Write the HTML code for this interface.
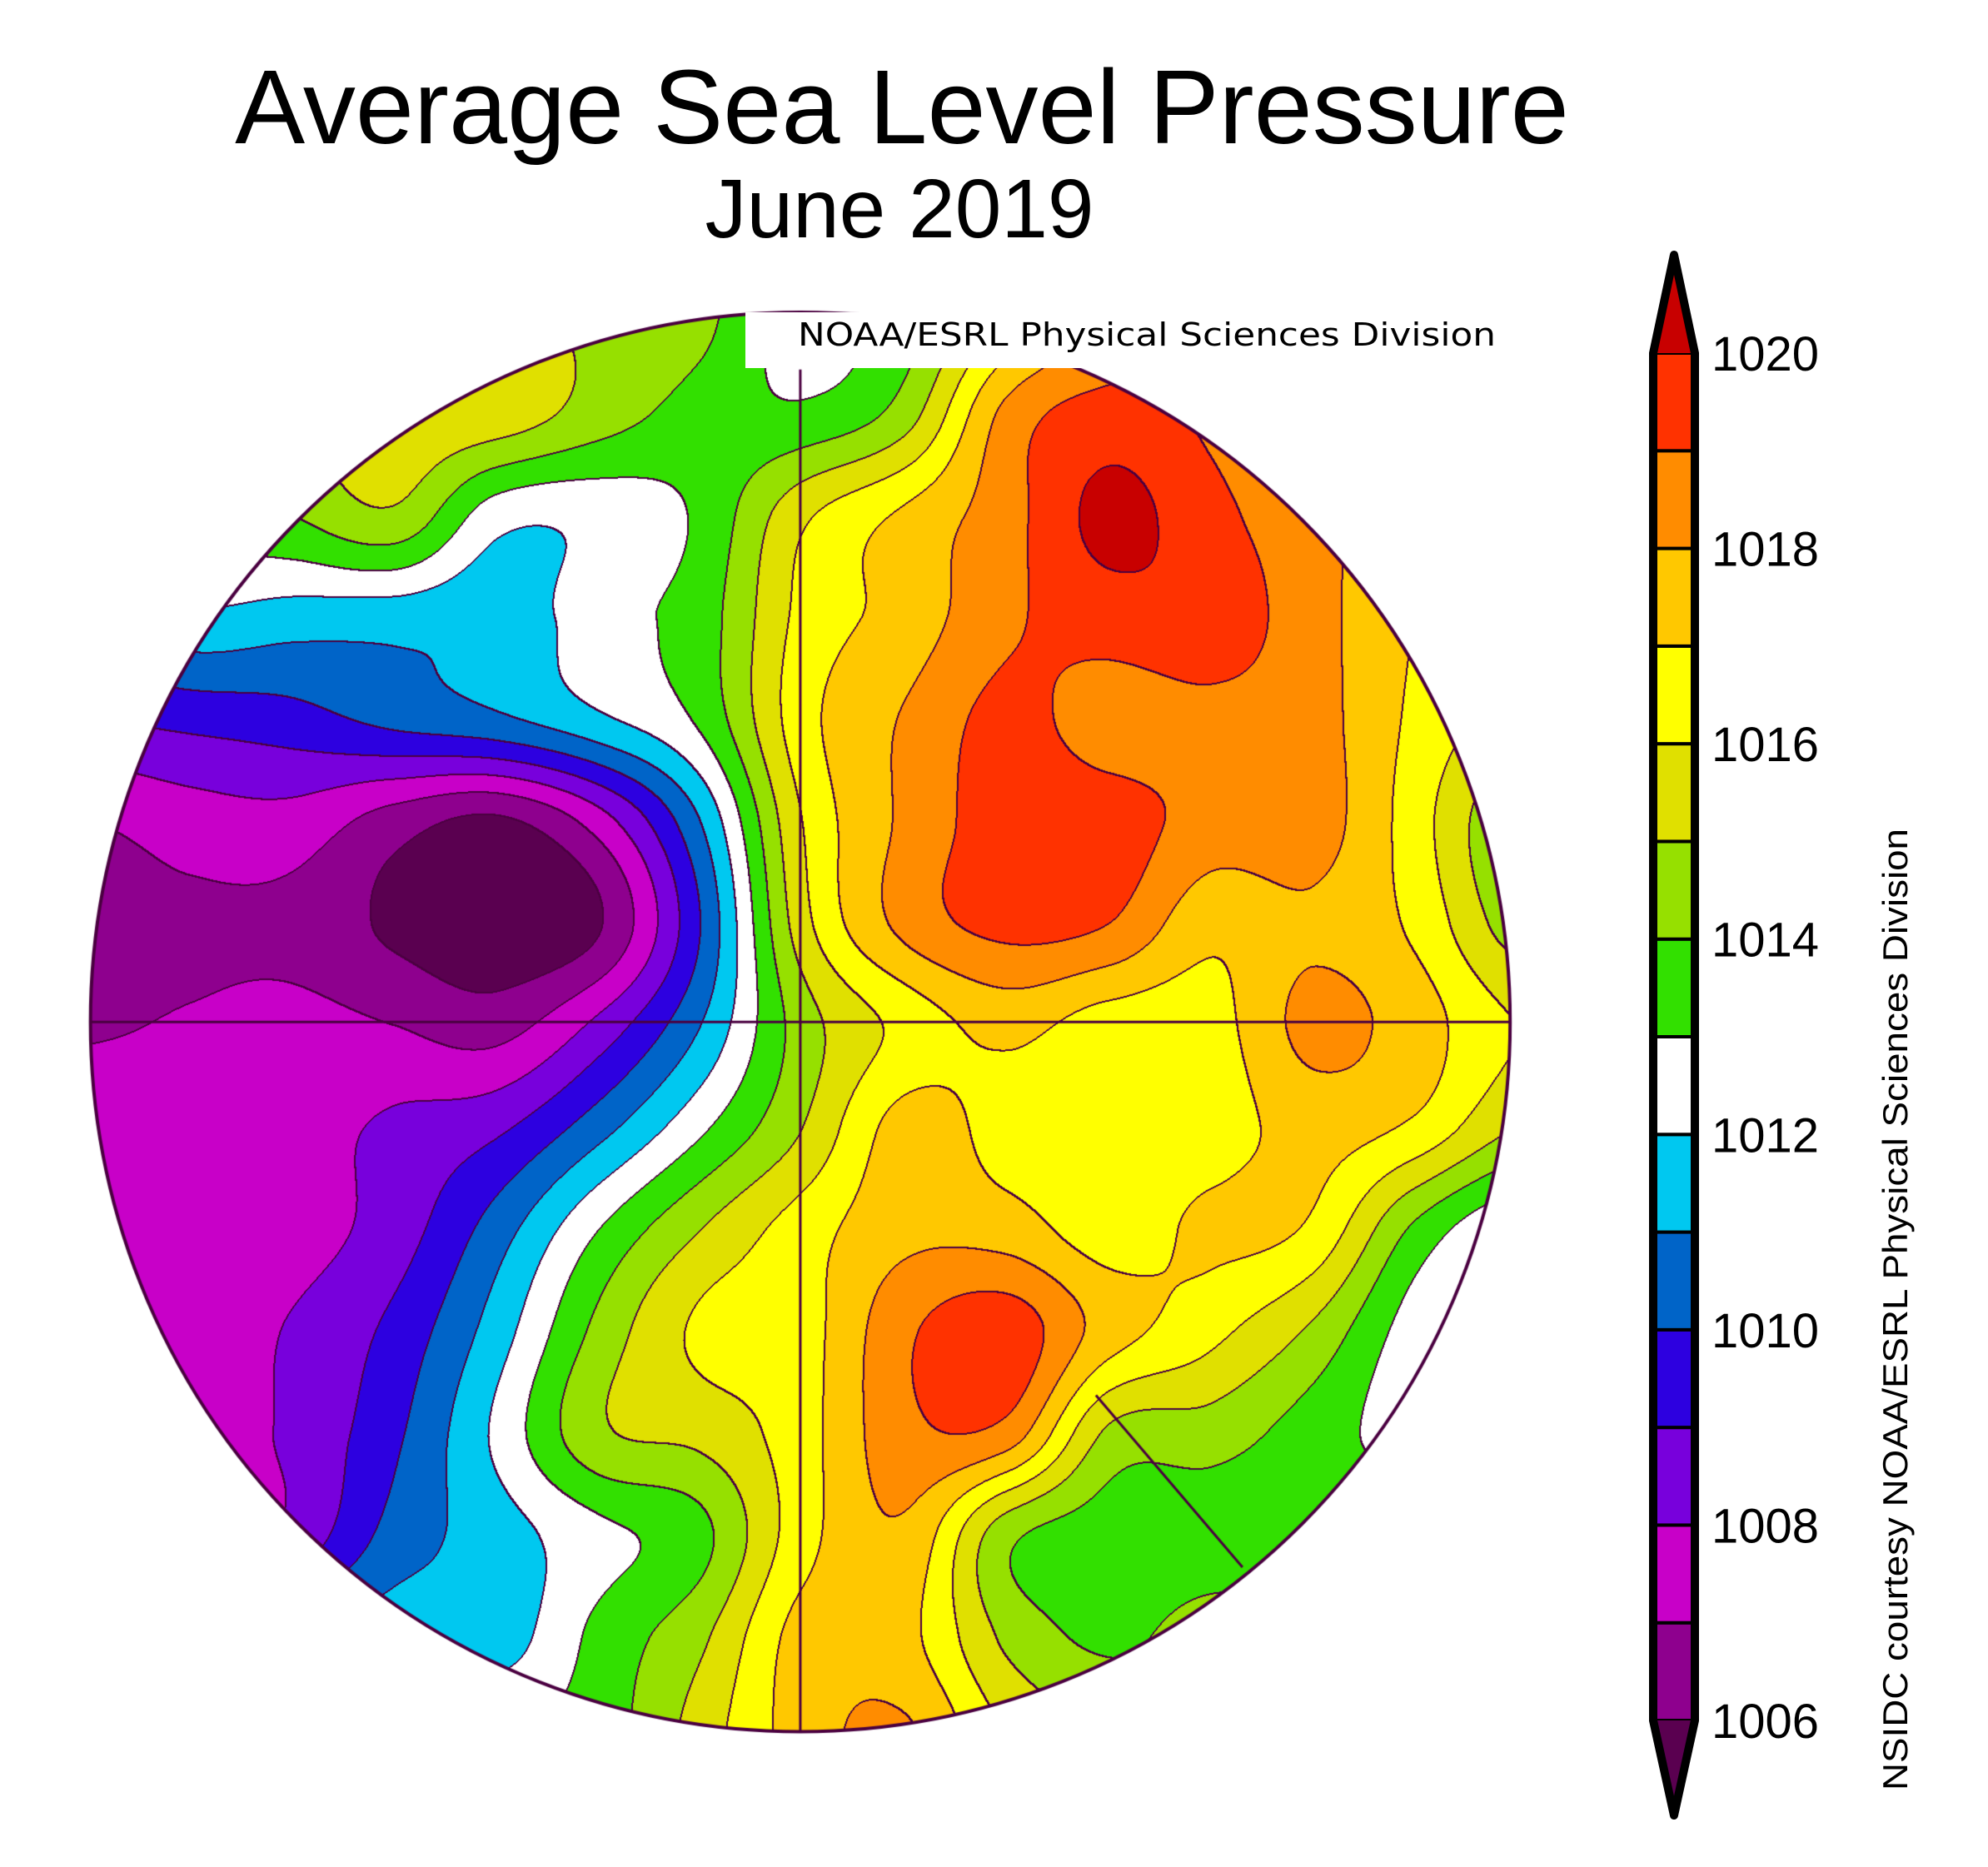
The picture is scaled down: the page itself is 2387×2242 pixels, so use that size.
<!DOCTYPE html>
<html><head><meta charset="utf-8"><style>
html,body{margin:0;padding:0;background:#fff;}
#root{position:relative;width:2387px;height:2242px;overflow:hidden;background:#fff;font-family:"Liberation Sans",sans-serif;}
#map{position:absolute;left:0;top:0;}
svg{position:absolute;left:0;top:0;}
</style></head><body>
<div id="root">
<canvas id="map" width="2387" height="2242"></canvas>
<svg id="ov" width="2387" height="2242">
  <text x="1083" y="172" font-size="126" text-anchor="middle" font-family="Liberation Sans, sans-serif">Average Sea Level Pressure</text>
  <text x="1080" y="285" font-size="100" text-anchor="middle" font-family="Liberation Sans, sans-serif">June 2019</text>
  <text transform="translate(2290,2150) rotate(-90)" font-size="42" font-family="Liberation Sans, sans-serif" textLength="1155" lengthAdjust="spacingAndGlyphs">NSIDC courtesy NOAA/ESRL Physical Sciences Division</text>
</svg>
</div>
<script>
// pressure grid (hPa), rows top->bottom, cols left->right
const row0 =[1015,1015,1015,1015.3,1015.3,1014.8,1014.3,1012.5,1013.5,1016,1018,1018.5,1018,1017,1016];
const row1 =[1014.5,1014.5,1015,1015.6,1015.6,1014.5,1013.6,1013.2,1014.5,1018.3,1019.4,1018.8,1018,1017,1016];
const row2 =[1013.5,1013.4,1014,1014.8,1012.4,1012.3,1013.2,1015.8,1017.2,1018.6,1020.3,1019.3,1018.3,1017.2,1016];
const row3 =[1011,1011.8,1011.5,1011.4,1011.3,1012.6,1013.5,1016.3,1017.4,1018.8,1019.5,1019.6,1018.4,1017,1016];
const row4 =[1009,1009.3,1009.6,1010.3,1010.8,1011.8,1013.2,1016.6,1018.1,1019.3,1018.5,1018.7,1018.4,1016.8,1015.5];
const row5 =[1007,1007.5,1007.6,1006.5,1005.8,1007.5,1011,1016,1018.2,1019.5,1019.5,1018.6,1018.5,1016.5,1014];
const row6 =[1006.6,1006.8,1006.7,1005.8,1005.2,1005.9,1010,1015.6,1018.3,1019.3,1019,1017.3,1017.8,1016.8,1014.5];
const row7 =[1006.9,1007.1,1007.3,1007,1006.6,1008.3,1011,1014.5,1016.3,1017.3,1016.5,1016.6,1018.3,1017.5,1016];
const row8 =[1007.5,1007.6,1007.6,1008.2,1008.8,1010.6,1012.8,1015,1017.4,1016.6,1016.2,1016.5,1017.4,1016.8,1015];
const row9 =[1007.5,1007.5,1007.6,1008.5,1010.5,1013,1015,1016.5,1017.7,1017.5,1016.5,1017.2,1016.8,1013.8,1012];
const row10=[1008,1007.6,1008.1,1009.3,1011.5,1014.3,1016.2,1016.6,1018.8,1019.6,1017.5,1016.3,1014.8,1012.5,1011.5];
const row11=[1007.5,1007.5,1008.2,1009.8,1012.2,1014.8,1015.3,1016.6,1018.7,1018.6,1014.8,1014.5,1013.5,1012.5,1012];
const row12=[1007.5,1007.5,1008.3,1010.4,1011.5,1012.7,1013.7,1016.6,1017.8,1014.3,1013.5,1013.4,1013.5,1014,1014];
const row13=[1009,1009.5,1010.8,1011.6,1011.5,1013.3,1014.8,1017.4,1017.3,1014.8,1013.8,1014.5,1014.5,1014.5,1014.5];
const row14=[1011,1011,1011.5,1012.2,1013,1013.5,1015.5,1017.5,1018.2,1016,1015,1014.5,1014.5,1014.5,1014.5];
const grid=[row0,row1,row2,row3,row4,row5,row6,row7,row8,row9,row10,row11,row12,row13,row14];
const levels=[1006,1007,1008,1009,1010,1011,1012,1013,1014,1015,1016,1017,1018,1019,1020];
const tickLabels=["1006","1008","1010","1012","1014","1016","1018","1020"];
const colors=["#5a0050","#8e008e","#c800c8","#7800dc","#2d00e0","#0064c8","#00c8f0","#ffffff","#32e000","#96e000","#e0e000","#ffff00","#ffc800","#ff8c00","#ff3200","#c80000"];

(function(){
const S = 2387/1560;
const GX0=70,GY0=245,GSTEP=80;
const cx=628*S, cy=802*S, R=557*S;
function hex(c){return [parseInt(c.substr(1,2),16),parseInt(c.substr(3,2),16),parseInt(c.substr(5,2),16)];}
const rgb=colors.map(hex);
const NR=grid.length, NC=grid[0].length;
function g(j,i){j=Math.max(0,Math.min(NR-1,j));i=Math.max(0,Math.min(NC-1,i));return grid[j][i];}
function cr(p0,p1,p2,p3,t){return 0.5*((2*p1)+(-p0+p2)*t+(2*p0-5*p1+4*p2-p3)*t*t+(-p0+3*p1-3*p2+p3)*t*t*t);}
function val(px,py){
  let gx=(px/S-GX0)/GSTEP, gy=(py/S-GY0)/GSTEP;
  gx=Math.max(0,Math.min(NC-1-1e-6,gx)); gy=Math.max(0,Math.min(NR-1-1e-6,gy));
  const i=Math.floor(gx), j=Math.floor(gy), fx=gx-i, fy=gy-j;
  const r=[];
  for(let k=-1;k<=2;k++)r.push(cr(g(j+k,i-1),g(j+k,i),g(j+k,i+1),g(j+k,i+2),fx));
  return cr(r[0],r[1],r[2],r[3],fy);
}
function band(v){let k=0;for(let i=0;i<levels.length;i++){if(v>=levels[i])k=i+1;}return k;}
const cv=document.getElementById('map'),ctx=cv.getContext('2d');
const x0=Math.floor(cx-R)-2,y0=Math.floor(cy-R)-2,W=Math.ceil(2*R)+4,H=Math.ceil(2*R)+4;
const B=new Uint8Array(W*H);
for(let y=0;y<H;y++)for(let x=0;x<W;x++)B[y*W+x]=band(val(x0+x,y0+y));
const img=ctx.createImageData(W,H);
for(let y=0;y<H;y++)for(let x=0;x<W;x++){
  const px=x0+x,py=y0+y,dx=px-cx,dy=py-cy;
  const o=(y*W+x)*4;
  if(dx*dx+dy*dy>R*R){img.data[o+3]=0;continue;}
  const k=B[y*W+x];
  let edge=false;
  if(x<W-2&&B[y*W+x+2]!==k)edge=true;
  if(y<H-2&&B[(y+2)*W+x]!==k)edge=true;
  const c=edge?[74,0,64]:rgb[k];
  img.data[o]=c[0];img.data[o+1]=c[1];img.data[o+2]=c[2];img.data[o+3]=255;
}
ctx.putImageData(img,x0,y0);
ctx.strokeStyle="#4a0040";ctx.lineWidth=3;
ctx.beginPath();ctx.moveTo(628*S,290*S);ctx.lineTo(628*S,1360*S);ctx.stroke();
ctx.beginPath();ctx.moveTo(70*S,802*S);ctx.lineTo(1186*S,802*S);ctx.stroke();
ctx.beginPath();ctx.moveTo(860*S,1095*S);ctx.lineTo(975*S,1230*S);ctx.stroke();
ctx.lineWidth=4;ctx.beginPath();ctx.arc(cx,cy,R,0,2*Math.PI);ctx.stroke();

const ns="http://www.w3.org/2000/svg";
const ov=document.getElementById('ov');
const box=document.createElementNS(ns,'rect');


box.setAttribute('x',895);box.setAttribute('y',375);box.setAttribute('width',915);box.setAttribute('height',67);box.setAttribute('fill','#fff');
ov.appendChild(box);
const nt=document.createElementNS(ns,'text');


nt.setAttribute('x',958);nt.setAttribute('y',415);nt.setAttribute('font-size',38);nt.setAttribute('font-family','DejaVu Sans, sans-serif');
nt.setAttribute('textLength',838);nt.setAttribute('lengthAdjust','spacingAndGlyphs');
nt.textContent='NOAA/ESRL  Physical  Sciences  Division';
ov.appendChild(nt);

const bx=1985,bw=50,cbTop=424,cbBot=2066,n=levels.length-1;
function yOf(v){return cbBot-(v-levels[0])/(levels[n]-levels[0])*(cbBot-cbTop);}
for(let i=0;i<n;i++){
  const r=document.createElementNS(ns,'rect');
  
  
  r.setAttribute('x',bx);r.setAttribute('y',yOf(levels[i+1]));r.setAttribute('width',bw);r.setAttribute('height',yOf(levels[i])-yOf(levels[i+1]));
  r.setAttribute('fill',colors[i+1]);r.setAttribute('stroke','#000');r.setAttribute('stroke-width',4);
  ov.appendChild(r);
}
const tipT=document.createElementNS(ns,'polygon');


tipT.setAttribute('points',`${bx},${cbTop} ${bx+bw/2},306 ${bx+bw},${cbTop}`);tipT.setAttribute('fill',colors[15]);
ov.appendChild(tipT);
const tipB=document.createElementNS(ns,'polygon');


tipB.setAttribute('points',`${bx},${cbBot} ${bx+bw/2},2180 ${bx+bw},${cbBot}`);tipB.setAttribute('fill',colors[0]);
ov.appendChild(tipB);
const outl=document.createElementNS(ns,'polygon');


outl.setAttribute('points',`${bx},${cbTop} ${bx+bw/2},306 ${bx+bw},${cbTop} ${bx+bw},${cbBot} ${bx+bw/2},2180 ${bx},${cbBot}`);
outl.setAttribute('fill','none');outl.setAttribute('stroke','#000');outl.setAttribute('stroke-width',10);outl.setAttribute('stroke-linejoin','round');
ov.appendChild(outl);
tickLabels.forEach(t=>{
  const tx=document.createElementNS(ns,'text');
  
  
  tx.setAttribute('x',2055);tx.setAttribute('y',yOf(+t)+21);tx.setAttribute('font-size',58);tx.setAttribute('font-family','Liberation Sans, sans-serif');
  tx.textContent=t;ov.appendChild(tx);
});
})();
</script>
</body></html>
